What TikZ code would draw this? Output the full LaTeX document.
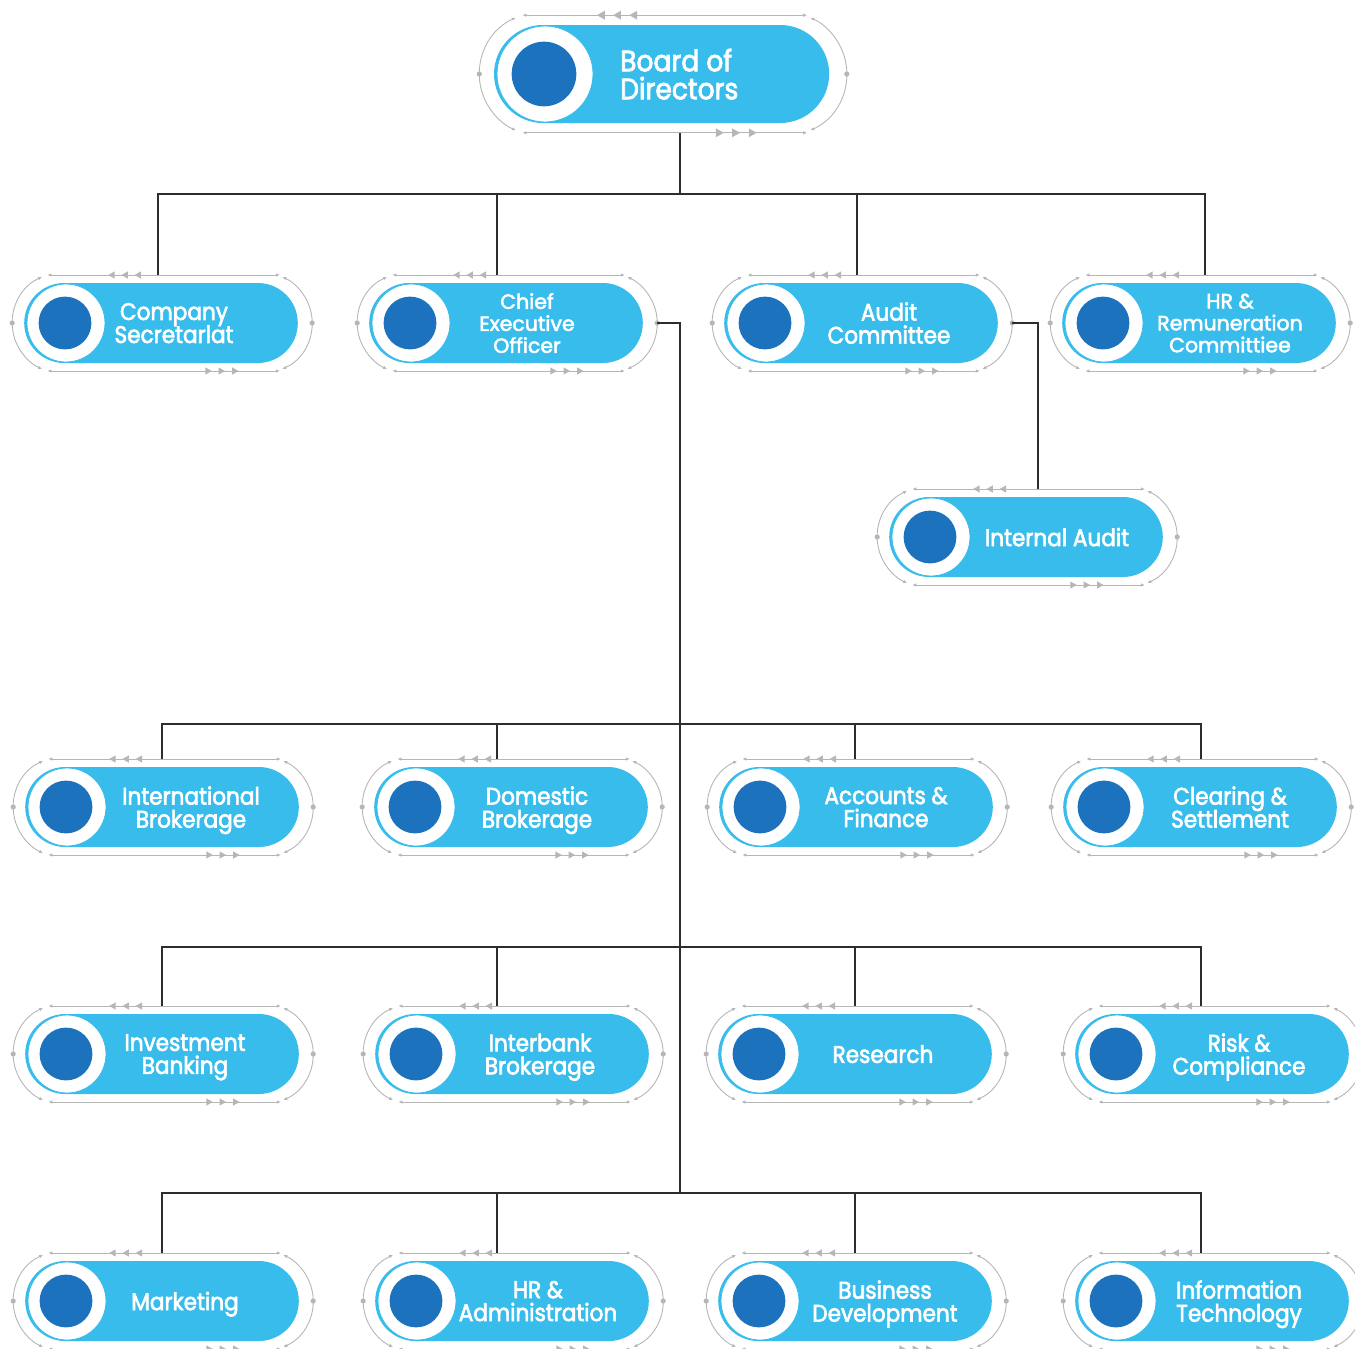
\documentclass[tikz,border=0pt]{standalone}
\usepackage{fontspec}
\setmainfont{Poppins}[FakeStretch=0.9, FakeBold=2.6]
\newfontfamily\widefont{Poppins}[FakeBold=2.6]
\usetikzlibrary{shapes.misc,arrows.meta}

\definecolor{pillblue}{RGB}{56,188,236}
\definecolor{dotblue}{RGB}{29,114,189}
\definecolor{decogray}{RGB}{182,182,182}
\definecolor{linkgray}{RGB}{45,45,45}

\tikzset{
  pill/.style={rounded rectangle, fill=pillblue, inner sep=0pt},
  deco/.style={decogray, line width=0.9pt},
  tipped/.style={{Latex[length=4pt,width=3.5pt]}-{Latex[length=4pt,width=3.5pt]}},
  link/.style={linkgray, line width=1.4pt},
  unittext/.style={text=white, align=center, inner sep=0pt, text depth=0pt,
    font=\fontsize{24}{23}\selectfont},
  smalltext/.style={unittext, font=\widefont\fontsize{20.5}{22}\selectfont},
  bigtext/.style={unittext, align=left, anchor=west,
    font=\fontsize{29.5}{28}\selectfont}
}
\lineskiplimit=-30pt

% one unit: [half height]{name}{left x}{centre y}{x of the link}
\newcommand{\unit}[5][40]{%
  \pgfmathsetmacro\ucl{#3+#1}%
  \pgfmathsetmacro\ucr{#3+5.8*#1}%
  \pgfmathsetmacro\ucx{#3+3.4*#1}%
  \pgfmathsetmacro\uxa{\ucl-0.06*#1}%
  \pgfmathsetmacro\uxb{\ucr+0.12*#1}%
  \pgfmathsetmacro\ua{1.26*#1}%
  \pgfmathsetmacro\uh{1.2*#1}%
  \node[pill, minimum width=6.84*#1pt, minimum height=2*#1pt] (#2) at (\ucx,-#4) {};
  \fill[white, draw=pillblue, line width=0.8pt] (\ucl+1,-#4) circle[radius=#1-1];
  \fill[dotblue] (\ucl,-#4) circle[radius=0.66*#1];
  % outer ring
  \draw[deco, tipped] (\uxa,-#4) ++(114:\ua) arc[start angle=114, end angle=246, radius=\ua];
  \draw[deco, tipped] (\uxb,-#4) ++(-66:\ua) arc[start angle=-66, end angle=66, radius=\ua];
  \fill[decogray] (\uxa-\ua,-#4) circle[radius=2.6];
  \fill[decogray] (\uxb+\ua,-#4) circle[radius=2.6];
  \draw[deco, tipped] (\ucl-0.44*#1,-#4+\uh) -- (\ucr+0.57*#1,-#4+\uh);
  \draw[deco, tipped] (\ucl-0.44*#1,-#4-\uh) -- (\ucr+0.57*#1,-#4-\uh);
  \foreach \k in {1.08,1.41,1.74}
    \fill[decogray] (\ucl+\k*#1,-#4+\uh) -- ++(0.16*#1,0.09*#1) -- ++(0,-0.18*#1) -- cycle;
  \foreach \k in {1.13,0.8,0.46}
    \fill[decogray] (\ucr-\k*#1,-#4-\uh) -- ++(-0.16*#1,0.09*#1) -- ++(0,-0.18*#1) -- cycle;
  \coordinate (#2-n) at (#5,-#4+\uh);
  \coordinate (#2-s) at (#5,-#4-\uh);
  \coordinate (#2-e) at (\uxb+\ua,-#4);
}

\begin{document}
\begin{tikzpicture}[x=1pt,y=1pt]
\useasboundingbox (0,0) rectangle (1355,-1349);

\unit[49]{board}{495}{74}{680}
\node[bigtext] (board-t) at (620,-74) {Board of\\Directors};

% committees
\unit{cs}{25}{323}{158}
\unit{ceo}{370}{323}{497}
\unit{audit}{725}{323}{857}
\unit{hrrem}{1063}{323}{1205}
\unit{iaudit}{890}{537}{1038}
\node[unittext] (cs-t) at (174,-323) {Company\\Secretarlat};
\node[smalltext] (ceo-t) at (527,-323) {Chief\\Executive\\Officer};
\node[unittext] (audit-t) at (889,-323) {Audit\\Committee};
\node[smalltext] (hrrem-t) at (1230,-323) {HR \&\\Remuneration\\Committiee};
\node[unittext] (iaudit-t) at (1057,-537) {Internal Audit};

% departments
\unit{intl}{26}{807}{162}
\unit{dom}{375}{807}{497}
\unit{acc}{720}{807}{855}
\unit{clr}{1064}{807}{1201}
\node[unittext] (intl-t) at (191,-807) {International\\Brokerage};
\node[unittext] (dom-t) at (537,-807) {Domestic\\Brokerage};
\node[unittext] (acc-t) at (886,-807) {Accounts \&\\Finance};
\node[unittext] (clr-t) at (1230,-807) {Clearing \&\\Settlement};

\unit{inv}{26}{1054}{162}
\unit{ibank}{376}{1054}{497}
\unit{res}{719}{1054}{855}
\unit{risk}{1076}{1054}{1201}
\node[unittext] (inv-t) at (185,-1054) {Investment\\Banking};
\node[unittext] (ibank-t) at (540,-1054) {Interbank\\Brokerage};
\node[unittext] (res-t) at (883,-1054) {Research};
\node[unittext] (risk-t) at (1239,-1054) {Risk \&\\Compliance};

\unit{mkt}{26}{1301}{162}
\unit{hradm}{376}{1301}{497}
\unit{bd}{719}{1301}{855}
\unit{it}{1076}{1301}{1201}
\node[unittext] (mkt-t) at (185,-1301) {Marketing};
\node[unittext] (hradm-t) at (538,-1301) {HR \&\\Administration};
\node[unittext] (bd-t) at (885,-1301) {Business\\Development};
\node[unittext] (it-t) at (1239,-1301) {Information\\Technology};

% links
\coordinate (bus1) at (680,-194);
\coordinate (bus2) at (680,-724);
\coordinate (bus3) at (680,-947);
\coordinate (bus4) at (680,-1193);
\draw[link] (board-s) -- (bus1);
\foreach \n in {cs,ceo,audit,hrrem}
  \draw[link] (bus1) -| (\n-n);
\draw[link] (audit-e) -| (iaudit-n);
\draw[link] (ceo-e) -| (bus4);
\foreach \n in {intl,dom,acc,clr}
  \draw[link] (bus2) -| (\n-n);
\foreach \n in {inv,ibank,res,risk}
  \draw[link] (bus3) -| (\n-n);
\foreach \n in {mkt,hradm,bd,it}
  \draw[link] (bus4) -| (\n-n);

\end{tikzpicture}
\end{document}
